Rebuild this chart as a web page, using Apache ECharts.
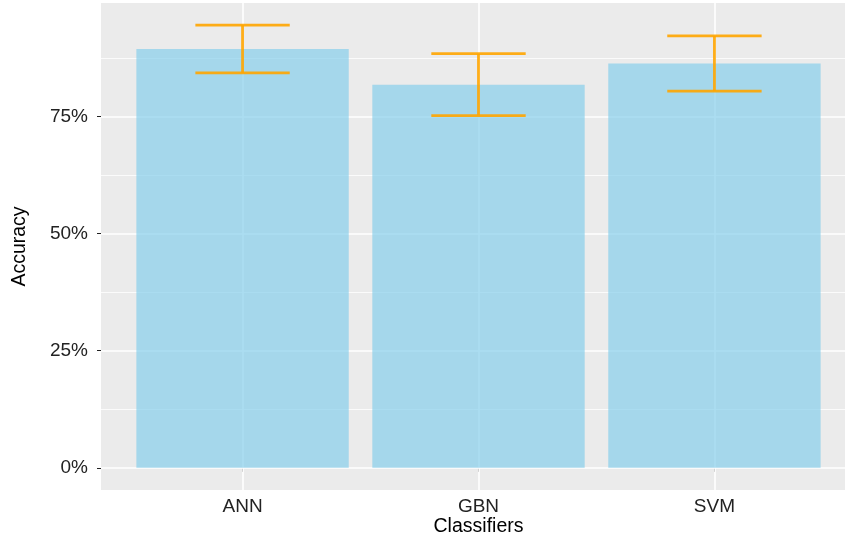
<!DOCTYPE html>
<html>
<head>
<meta charset="utf-8">
<script src="https://cdn.jsdelivr.net/npm/echarts@6/dist/echarts.min.js"></script>
<style>
  html, body { margin: 0; padding: 0; background: #ffffff; }
  #chart { width: 845px; height: 533px; }
</style>
</head>
<body>
<div id="chart"></div>
<script>
// Classifier accuracy (mean, %) with ± one standard deviation
const classifiers = ['ANN', 'GBN', 'SVM'];
const accuracy = [89.4, 81.8, 86.3];
const accuracySd = [5.1, 6.6, 5.9];

// y axis breaks (%)
const yMajorTicks = [0, 25, 50, 75];
const yMinorTicks = [12.5, 37.5, 62.5, 87.5];

// discrete positions 1..n, padded 0.6 on each side
const positions = classifiers.map((_, i) => i + 1);
const X_PAD = 0.6;
const yTop = Math.max(...accuracy.map((v, i) => v + accuracySd[i]));
const yPad = yTop * 0.05;

const BAR_HALF = 0.45;
const CAP_HALF = 0.2;
const FONT = '"Liberation Sans", Arial, Helvetica, sans-serif';
const TEXT = '#222222';

const barData = positions.map((p, i) => [p, accuracy[i]]);
const errData = positions.map((p, i) => [p, accuracy[i] - accuracySd[i], accuracy[i] + accuracySd[i]]);

const gridLines = []
  .concat(yMajorTicks.map(v => ({ yAxis: v, lineStyle: { width: 1.6 } })))
  .concat(yMinorTicks.map(v => ({ yAxis: v, lineStyle: { width: 0.8 } })))
  .concat(positions.map(p => ({ xAxis: p, lineStyle: { width: 1.6 } })));

const chart = echarts.init(document.getElementById('chart'), null, { renderer: 'canvas' });

chart.setOption({
  animation: false,
  backgroundColor: '#ffffff',
  grid: {
    left: 101, top: 3, width: 755, height: 487,
    outerBoundsMode: 'none',
    containLabel: false,
    show: true, backgroundColor: '#EBEBEB', borderWidth: 0
  },
  xAxis: {
    type: 'value',
    min: positions[0] - X_PAD,
    max: positions[positions.length - 1] + X_PAD,
    name: 'Classifiers',
    nameLocation: 'middle',
    nameGap: 27,
    nameMoveOverlap: false,
    nameTextStyle: { fontFamily: FONT, fontSize: 19.5, color: '#000000' },
    axisLine: { show: false },
    splitLine: { show: false },
    axisTick: { show: true, customValues: positions, length: 4, lineStyle: { color: TEXT, width: 1 } },
    axisLabel: {
      customValues: positions,
      formatter: v => classifiers[Math.round(v) - 1] || '',
      margin: 7,
      fontFamily: FONT, fontSize: 19, color: TEXT
    }
  },
  yAxis: {
    type: 'value',
    min: -yPad,
    max: yTop + yPad,
    name: 'Accuracy',
    nameLocation: 'middle',
    nameGap: 71,
    nameMoveOverlap: false,
    nameTextStyle: { fontFamily: FONT, fontSize: 19.5, color: '#000000' },
    axisLine: { show: false },
    splitLine: { show: false },
    axisTick: { show: true, customValues: yMajorTicks, length: 4, lineStyle: { color: TEXT, width: 1 } },
    axisLabel: {
      customValues: yMajorTicks,
      formatter: v => Math.round(v) + '%',
      margin: 13,
      fontFamily: FONT, fontSize: 19, color: TEXT
    }
  },
  series: [
    {
      // panel grid lines
      type: 'line',
      data: [],
      silent: true,
      z: 1,
      markLine: {
        z: 1,
        silent: true,
        symbol: 'none',
        animation: false,
        label: { show: false },
        lineStyle: { color: '#ffffff', type: 'solid' },
        data: gridLines
      }
    },
    {
      type: 'custom',
      z: 2,
      silent: true,
      data: barData,
      encode: { x: 0, y: 1 },
      renderItem: (params, api) => {
        const x = api.value(0), v = api.value(1);
        const p0 = api.coord([x - BAR_HALF, v]);
        const p1 = api.coord([x + BAR_HALF, 0]);
        return {
          type: 'rect',
          shape: { x: p0[0], y: p0[1], width: p1[0] - p0[0], height: p1[1] - p0[1] },
          style: { fill: 'rgba(135,206,235,0.7)' }
        };
      }
    },
    {
      type: 'custom',
      z: 3,
      silent: true,
      data: errData,
      encode: { x: 0, y: [1, 2] },
      renderItem: (params, api) => {
        const x = api.value(0), lo = api.value(1), hi = api.value(2);
        const top = api.coord([x, hi]);
        const bot = api.coord([x, lo]);
        const l = api.coord([x - CAP_HALF, hi])[0];
        const r = api.coord([x + CAP_HALF, hi])[0];
        const style = { stroke: 'rgba(255,165,0,0.9)', lineWidth: 2.8, lineCap: 'butt' };
        return {
          type: 'group',
          children: [
            { type: 'line', shape: { x1: top[0], y1: top[1], x2: bot[0], y2: bot[1] }, style },
            { type: 'line', shape: { x1: l, y1: top[1], x2: r, y2: top[1] }, style },
            { type: 'line', shape: { x1: l, y1: bot[1], x2: r, y2: bot[1] }, style }
          ]
        };
      }
    }
  ]
});
</script>
</body>
</html>
